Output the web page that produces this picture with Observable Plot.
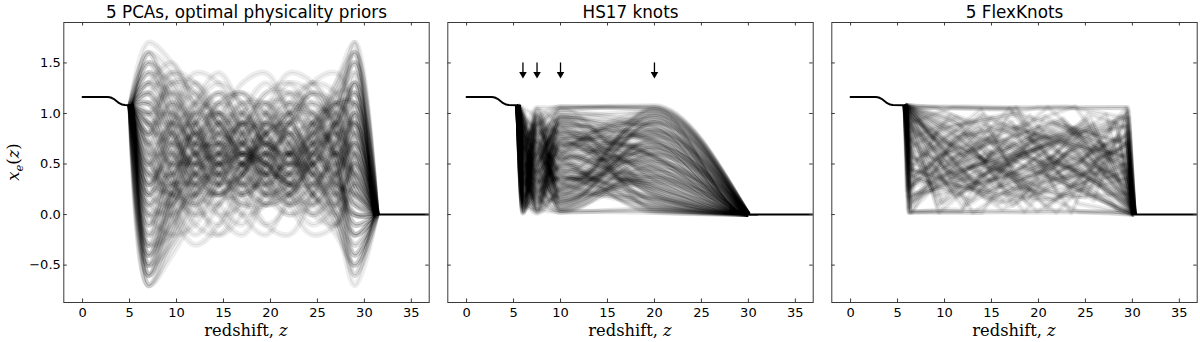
<!DOCTYPE html>
<html><head><meta charset="utf-8">
<script src="https://cdn.jsdelivr.net/npm/d3@7"></script>
<script src="https://cdn.jsdelivr.net/npm/@observablehq/plot@0.6"></script>
<style>
body{margin:0;background:#fff;}
#chart{position:relative;width:1200px;height:342px;background:#fff;}
#chart svg{position:absolute;top:0;}
</style></head><body><div id="chart"></div>
<script>
// ---------- data ----------
const titles = ["5 PCAs, optimal physicality priors", "HS17 knots", "5 FlexKnots"];
const xTicks = [0, 5, 10, 15, 20, 25, 30, 35];
const yTicks = [-0.5, 0, 0.5, 1, 1.5];
const xDomain = [-2, 36.9];
const yDomain = [-0.87, 1.9];

// common low-redshift helium step
const heliumZ  = [0, 2.7, 3.0, 3.3, 3.6, 3.9, 4.2, 4.5];
const heliumXe = [1.163, 1.163, 1.158, 1.145, 1.124, 1.102, 1.089, 1.083];
const plateauXe = 1.082;

// panel 1: PCA reconstructions (values at pcaZ)
const pcaLeadZ = 4.85, pcaStartZ = 5.1, pcaEndZ = 31.3, pcaTrailZ = 31.6;
const pcaZ = [7, 9.5, 12, 14.5, 17, 19.5, 22, 24.5, 27, 29];
const pcaCurves = [
[-0.6,0.1,0.9,1.2,0.8,0.3,0.2,0.6,1.1,1.5],[1.5,1.3,0.7,0.1,-0.1,0.3,0.9,1.2,0.8,0.2],
[0.2,0.5,0.8,0.7,0.4,0.3,0.5,0.7,0.6,0.3],[-0.3,-0.1,0.3,0.8,1.1,1.0,0.6,0.2,0.0,-0.4],
[1.2,0.8,0.3,0.2,0.5,0.9,1.1,0.9,0.4,-0.1],[0.8,1.4,1.3,0.8,0.3,0.1,0.2,0.5,0.9,1.3],
[-0.7,-0.2,0.4,0.6,0.5,0.6,0.8,0.7,0.3,-0.6],[0.5,0.2,0.0,0.3,0.8,1.2,1.3,0.9,0.3,0.0],
[1.6,1.1,0.6,0.6,0.9,0.9,0.6,0.2,0.1,0.6],[0.0,0.6,1.0,0.9,0.4,-0.1,-0.2,0.2,0.8,1.7],
[-0.4,0.3,1.1,1.4,1.0,0.4,0.1,0.3,0.5,0.4],[1.0,0.4,-0.1,-0.2,0.2,0.7,1.0,1.1,0.9,0.6],
[0.3,0.9,1.2,0.9,0.6,0.5,0.4,0.1,-0.2,-0.5],[0.7,0.5,0.5,0.6,0.6,0.4,0.4,0.6,0.9,1.1],
[-0.5,-0.3,0.1,0.5,0.7,0.8,1.0,1.2,1.1,0.8],[1.3,1.5,1.0,0.4,0.2,0.4,0.6,0.4,-0.1,-0.5],
[0.1,0.0,0.2,0.6,0.9,0.8,0.3,0.0,0.2,0.9],[0.9,0.7,0.8,1.1,1.2,0.8,0.2,-0.1,0.1,0.5],
[-0.2,0.5,0.7,0.4,0.1,0.2,0.7,1.3,1.4,1.0],[1.4,0.9,0.2,-0.2,0.0,0.5,0.8,0.6,0.5,0.7],
[0.4,0.8,0.6,0.2,0.2,0.6,1.1,1.3,0.9,0.1],[-0.1,0.2,0.5,0.9,1.3,1.4,1.0,0.5,0.1,-0.2],
[1.1,1.2,0.9,0.5,0.5,0.8,0.9,0.5,0.0,-0.3],[0.6,0.1,-0.2,0.1,0.5,0.6,0.5,0.7,1.2,1.6],
[-0.6,0.0,0.7,1.0,0.7,0.2,0.0,0.2,0.7,1.2],[0.9,1.0,0.6,0.3,0.4,0.7,0.6,0.3,0.3,0.8],
[0.2,0.4,0.3,0.4,0.7,1.0,1.2,1.0,0.5,0.0],[1.5,0.9,0.4,0.4,0.6,0.5,0.2,0.0,0.3,1.0],
[-0.3,0.2,0.6,0.6,0.3,0.1,0.3,0.8,1.1,0.9],[0.5,1.0,1.4,1.3,0.9,0.6,0.6,0.8,0.7,0.2],
[0.0,-0.2,-0.1,0.3,0.6,0.5,0.3,0.4,0.6,0.4],[1.2,0.6,0.5,0.8,1.0,0.7,0.3,0.3,0.6,1.4],
[-0.5,0.1,0.4,0.3,0.4,0.8,1.2,1.1,0.6,-0.1],[0.8,0.3,0.2,0.5,0.9,1.0,0.7,0.2,-0.1,0.2],
[0.3,0.7,1.0,1.1,0.8,0.4,0.2,0.4,1.0,1.5],[1.0,1.2,1.1,0.7,0.2,-0.1,0.1,0.6,0.8,0.5],
[-0.4,-0.1,0.5,1.1,1.2,0.8,0.5,0.5,0.4,0.0],[0.6,0.6,0.3,0.0,0.1,0.5,0.9,0.9,0.6,0.4],
[1.3,1.0,0.7,0.7,0.7,0.5,0.5,0.8,1.2,1.2],[0.1,0.4,0.8,0.8,0.5,0.4,0.6,0.4,0.0,-0.6],
[0.7,1.1,0.9,0.4,0.3,0.6,1.0,1.0,0.5,-0.2],[-0.2,0.0,0.2,0.2,0.4,0.9,1.3,1.2,0.8,0.6],
[1.4,1.3,0.8,0.5,0.6,0.6,0.3,0.1,0.4,1.1],[0.4,0.2,0.4,0.9,1.0,0.6,0.1,-0.2,-0.1,0.3],
[-0.7,-0.3,0.2,0.7,0.9,0.7,0.6,0.7,0.9,1.3],[0.9,0.5,0.6,0.8,0.6,0.2,0.2,0.5,0.6,0.2],
[0.2,0.8,1.1,1.0,0.8,0.9,0.8,0.4,0.1,0.0],[1.1,0.7,0.1,-0.1,0.3,0.8,0.9,0.6,0.4,0.7],
[-0.1,0.3,0.3,0.5,0.5,0.3,0.4,0.9,1.3,1.6],[0.5,0.9,0.7,0.5,0.7,1.1,1.1,0.7,0.2,-0.4],
[1.6,1.4,0.9,0.3,0.1,0.1,0.4,0.7,0.7,0.4],[-0.4,0.2,0.9,1.2,1.1,0.6,0.3,0.5,0.8,0.9],
[0.8,0.8,0.4,0.2,0.3,0.3,0.6,1.0,1.0,0.3],[0.0,0.1,0.6,0.7,0.6,0.8,0.8,0.3,0.1,0.5],
[1.2,0.9,0.9,1.0,0.7,0.3,0.0,0.1,0.5,1.0],[0.3,0.6,0.5,0.3,0.5,0.7,0.5,0.6,0.9,1.3],
[-0.6,-0.1,0.3,0.4,0.2,0.4,0.9,1.0,0.6,-0.3],[0.7,0.3,0.1,0.4,1.0,1.3,1.0,0.5,0.3,0.2],
[1.0,1.3,1.2,0.6,0.0,-0.2,0.2,0.7,1.1,1.1],[0.4,0.4,0.7,1.0,0.9,0.5,0.3,0.2,0.4,0.7],
[1.7,1.5,1.1,0.7,0.5,0.6,0.8,0.9,1.0,1.2],[-0.7,-0.4,0.0,0.4,0.7,0.7,0.5,0.2,-0.1,-0.7],
[0.9,0.6,0.2,0.1,0.4,1.0,1.4,1.3,0.8,0.1],[0.2,0.9,1.3,1.0,0.5,0.2,0.3,0.6,0.8,0.8],
[1.3,0.8,0.5,0.7,1.1,1.1,0.7,0.3,0.2,0.4],[-0.3,0.4,0.6,0.5,0.6,0.5,0.3,0.5,1.0,1.6],
[0.6,0.0,-0.3,-0.1,0.4,0.9,1.0,0.7,0.2,-0.2],[1.0,1.0,0.8,0.5,0.3,0.5,1.0,1.3,1.2,0.7],
[0.1,0.7,0.9,0.6,0.6,0.9,0.7,0.2,0.0,0.3],[1.5,1.2,0.6,0.0,-0.2,0.2,0.6,0.9,1.1,1.4],
[-0.5,0.0,0.5,0.8,0.8,0.5,0.3,0.3,0.3,0.1],[0.7,0.8,1.1,1.3,1.1,0.7,0.4,0.5,0.6,0.6],
[0.3,0.2,0.1,0.3,0.6,0.7,0.9,1.1,0.9,0.4],[1.1,0.5,0.4,0.6,0.7,0.4,0.1,0.2,0.7,1.3],
[-0.2,0.3,0.9,1.0,0.6,0.5,0.7,0.9,0.6,-0.2],[0.8,1.1,0.8,0.3,0.0,0.1,0.5,0.8,0.9,0.9],
[0.4,0.3,0.6,1.0,1.2,1.0,0.6,0.4,0.5,1.0],[1.4,1.1,0.6,0.4,0.5,0.4,0.4,0.7,0.8,0.3],
[-0.6,-0.2,0.3,0.5,0.3,0.3,0.6,0.9,1.2,1.5],[0.5,0.7,0.4,0.3,0.7,1.0,0.8,0.4,0.0,-0.5],
[1.2,1.4,1.2,0.9,0.6,0.4,0.5,0.4,0.2,0.5],[0.0,0.2,0.7,1.1,1.0,0.7,0.6,0.8,1.0,0.6],
[0.9,0.4,0.0,0.1,0.5,0.6,0.4,0.5,0.9,1.2],[0.3,0.6,0.8,0.5,0.2,0.4,0.9,1.2,1.0,0.3],
[-0.4,0.1,0.4,0.6,0.9,1.1,0.9,0.5,0.2,0.0],[1.6,1.0,0.4,0.2,0.4,0.8,1.0,0.8,0.6,0.9],
[0.6,0.9,1.0,0.8,0.7,0.5,0.2,0.1,0.4,1.0],[0.2,0.1,0.4,0.7,0.5,0.2,0.3,0.7,1.1,1.1],
[1.0,0.7,0.7,0.9,0.9,0.7,0.6,0.6,0.4,-0.1],[-0.1,0.5,1.0,1.2,0.8,0.3,0.1,0.3,0.6,0.7],
[0.7,0.2,0.2,0.6,1.0,1.1,0.8,0.6,0.7,1.1],[1.3,1.2,0.8,0.6,0.4,0.2,0.4,0.9,1.1,0.8],
[0.4,0.5,0.5,0.4,0.5,0.8,1.1,1.0,0.5,-0.4],[-0.3,-0.2,0.2,0.5,0.8,0.9,0.7,0.4,0.4,0.8],
[0.8,1.3,1.3,0.9,0.6,0.7,0.7,0.5,0.2,0.1],[0.1,0.3,0.3,0.2,0.4,0.6,0.6,0.8,1.3,1.7],
[1.1,0.8,0.5,0.5,0.8,1.2,1.2,0.8,0.3,0.2],[0.5,0.4,0.6,0.9,0.7,0.4,0.5,0.5,0.7,0.9],
[-0.5,0.2,0.8,0.9,0.5,0.1,0.2,0.6,0.9,0.5],[0.9,0.9,0.7,0.7,0.9,0.8,0.4,0.0,-0.1,0.6]
];

// panel 2: HS17 fixed-position knots (values at hsKnotZ)
const hsStartZ = 5.45, hsEndZ = 30, hsTrailZ = 31;
const hsKnotZ = [6, 7.5, 10, 20];
const hsCurves = [
[0.12,0.85,0.33,0.97],[0.64,0.22,0.91,0.41],[0.05,0.58,0.76,0.18],[0.93,0.37,0.12,0.66],
[0.31,1.02,0.55,0.83],[0.47,0.09,0.68,0.29],[0.78,0.71,0.24,1.04],[0.19,0.44,0.98,0.57],
[0.86,0.15,0.47,0.08],[0.02,0.93,0.19,0.74],[0.55,0.63,0.84,0.35],[0.38,0.28,0.06,0.92],
[1.01,0.80,0.62,0.46],[0.24,0.05,0.39,0.61],[0.69,0.49,1.05,0.22],[0.10,0.76,0.29,0.88],
[0.83,0.33,0.72,0.13],[0.42,0.97,0.15,0.52],[0.60,0.12,0.51,0.99],[0.15,0.67,0.88,0.04],
[0.97,0.54,0.35,0.71],[0.33,0.19,0.80,0.38],[0.73,0.89,0.10,0.80],[0.07,0.40,0.59,0.27],
[0.50,0.74,0.43,0.95],[0.88,0.03,0.93,0.50],[0.27,0.60,0.22,0.16],[0.66,0.26,0.66,0.85],
[0.03,0.83,0.49,0.63],[0.91,0.46,0.17,0.32],[0.36,0.07,0.74,0.77],[0.58,1.05,0.31,0.10],
[0.21,0.35,0.96,0.69],[0.80,0.69,0.04,0.44],[0.45,0.17,0.57,1.02],[0.13,0.52,0.81,0.24],
[1.05,0.95,0.27,0.59],[0.29,0.31,0.45,0.07],[0.71,0.11,0.86,0.90],[0.09,0.78,0.13,0.36],
[0.53,0.43,0.70,0.67],[0.95,0.24,0.37,0.19],[0.40,0.88,1.00,0.81],[0.17,0.02,0.26,0.54],
[0.76,0.65,0.53,0.03],[0.04,0.29,0.64,0.93],[0.62,0.99,0.09,0.42],[0.34,0.50,0.89,0.73],
[0.85,0.14,0.41,0.30],[0.22,0.72,0.20,1.06],[0.99,0.38,0.78,0.58],[0.48,0.61,0.32,0.14],
[0.14,0.10,0.52,0.79],[0.67,0.91,0.71,0.25],[0.30,0.42,0.07,0.49],[0.89,0.79,0.95,0.86],
[0.06,0.21,0.36,0.34],[0.57,0.56,0.61,0.97],[0.81,0.06,0.23,0.62],[0.26,0.84,0.83,0.11],
[0.44,0.34,0.48,0.70],[0.92,0.70,0.14,0.39],[0.18,0.47,0.92,0.55],[0.74,0.18,0.58,0.21],
[0.01,0.64,0.30,0.84],[0.63,1.00,0.77,0.47],[0.35,0.25,0.11,0.76],[0.96,0.57,0.44,0.06],
[0.11,0.90,0.63,0.65],[0.52,0.13,0.99,0.33],[0.77,0.39,0.18,0.91],[0.23,0.81,0.40,0.17],
[0.70,0.04,0.69,0.53],[0.41,0.66,0.25,0.99],[1.03,0.30,0.85,0.28],[0.16,0.53,0.05,0.60],
[0.59,0.87,0.56,0.82],[0.32,0.20,0.73,0.12],[0.84,0.75,0.34,0.45],[0.08,0.45,0.87,0.72],
[0.46,0.92,0.58,0.15],[0.87,0.41,0.95,0.74],[0.20,0.16,0.67,0.42],[0.65,0.86,0.21,1.00],
[0.03,0.48,0.82,0.58],[0.94,0.27,0.50,0.23],[0.37,0.73,0.16,0.68],[0.72,0.08,0.74,0.89],
[0.13,0.98,0.38,0.31],[0.56,0.35,0.97,0.05],[0.82,0.62,0.08,0.56],[0.26,0.23,0.60,0.96],
[1.00,0.77,0.45,0.37],[0.43,0.01,0.28,0.78],[0.68,0.53,0.90,0.19],[0.08,0.69,0.47,1.03],
[0.90,0.19,0.02,0.48],[0.30,0.94,0.79,0.64],[0.61,0.32,0.36,0.09],[0.16,0.58,1.02,0.87],
[0.79,0.83,0.54,0.27],[0.49,0.12,0.18,0.66],[0.02,0.37,0.71,0.40],[0.98,0.66,0.32,0.93],
[0.35,1.04,0.88,0.20],[0.73,0.47,0.12,0.75],[0.19,0.29,0.55,0.52],[0.58,0.76,0.96,1.01],
[0.86,0.04,0.42,0.16],[0.25,0.61,0.26,0.59],[0.67,0.96,0.65,0.34],[0.11,0.26,0.81,0.83],
[0.95,0.51,0.23,0.71],[0.40,0.81,0.61,0.02],[0.54,0.15,0.92,0.46],[0.06,0.71,0.14,0.91],
[0.77,0.44,0.76,0.57],[0.31,0.89,0.39,0.26],[0.89,0.22,0.69,0.80],[0.47,0.59,0.04,0.38],
[0.72,0.95,1.07,1.06],[0.30,0.60,1.05,1.08],[0.85,1.06,1.06,1.05],[0.10,0.05,0.03,0.04],
[0.50,0.20,0.04,0.02],[0.95,0.88,1.07,1.04],[0.15,0.90,1.04,1.07],[0.60,0.35,0.02,0.06]
];
const arrowZ = [6, 7.5, 10, 20];
const arrowTopXe = 1.50, arrowHeadXe = 1.39;

// panel 3: FlexKnots, interior knots as [z1,xe1, z2,xe2, z3,xe3, z4,xe4]
const flexStartZ = 5.8, flexEndZ = 30.2;
const flexCurves = [
[6.2,0.31,12.5,0.84,19.3,0.22,29.5,0.70],[6.4,0.95,14.1,0.40,22.6,0.91,29.4,0.12],
[9.8,0.12,15.7,0.66,21.0,1.06,29.6,0.38],[6.1,0.78,11.2,0.18,18.6,0.57,25.1,0.94],
[6.3,0.02,16.9,1.05,23.4,0.27,29.6,0.81],[6.1,0.06,10.4,0.63,20.2,0.41,28.9,0.05],
[11.6,0.88,17.3,0.09,24.5,0.73,29.7,0.55],[6.0,0.24,13.8,0.97,18.0,0.33,27.2,0.99],
[6.6,1.07,9.9,0.47,21.7,0.79,29.3,0.20],[12.8,0.35,19.5,0.60,25.9,0.14,29.5,1.04],
[6.3,0.57,14.6,0.28,20.8,0.86,29.6,0.47],[8.9,0.73,13.0,0.02,22.3,0.56,28.4,0.90],
[6.2,0.15,16.2,0.82,23.9,1.07,29.7,0.30],[6.2,0.90,10.9,1.06,17.8,1.05,24.2,0.11],
[6.5,0.44,15.2,0.19,21.4,0.39,29.4,0.77],[6.5,0.38,12.1,0.71,19.9,0.03,29.0,0.58],
[9.1,1.06,18.4,0.65,24.8,0.89,29.6,0.42],[6.3,0.02,11.8,0.03,16.6,0.94,28.0,0.08],
[13.4,0.62,17.6,1.06,22.0,0.20,29.5,0.51],[6.1,0.69,8.7,0.25,20.5,0.68,29.6,0.96],
[6.2,0.46,15.9,0.13,23.1,0.61,29.2,0.33],[11.0,0.80,14.3,0.53,19.1,0.98,25.4,0.24],
[6.4,0.17,13.5,0.59,21.9,0.02,29.6,0.74],[8.1,1.06,17.0,1.04,24.0,0.45,29.3,1.05],
[6.2,0.41,10.6,0.99,18.9,0.75,26.1,0.16],[12.3,0.10,16.4,0.48,22.8,0.84,29.7,0.60],
[6.2,1.04,9.5,0.70,15.4,0.26,23.6,0.52],[6.3,0.29,14.8,0.77,20.3,0.50,29.0,0.02],
[10.0,0.61,18.1,0.16,25.3,1.00,29.4,0.86],[6.3,0.12,11.4,0.43,17.2,0.72,22.7,0.31],
[6.1,0.84,13.2,0.60,21.1,0.13,29.5,0.44],[6.8,0.55,16.0,0.90,24.4,0.66,29.5,0.18],
[14.0,0.21,19.7,0.55,23.5,0.02,28.1,0.92],[6.1,0.83,12.0,0.07,17.5,0.38,29.6,0.79],
[6.4,0.67,10.8,0.88,20.0,1.06,29.4,1.06],[9.4,0.02,15.6,0.51,22.1,0.71,29.4,0.58],
[6.5,0.49,13.9,1.04,18.7,0.12,24.9,0.85],[11.3,0.92,16.8,0.34,21.6,0.58,29.7,0.10],
[6.2,0.23,9.2,0.58,19.2,0.89,28.8,0.49],[6.0,0.76,14.4,0.15,23.2,0.40,29.6,1.02],
[6.6,0.95,12.7,0.55,20.7,0.24,29.7,0.71],[10.7,0.36,17.4,0.69,22.5,0.93,29.1,0.27],
[6.3,0.60,11.5,0.21,18.3,0.46,24.7,0.67],[6.3,0.08,15.0,0.96,21.2,0.64,29.5,0.35],
[12.6,0.71,16.3,0.28,25.0,0.17,29.3,0.93],[6.4,0.86,10.1,0.33,19.6,0.80,29.2,0.57],
[9.0,0.53,13.6,0.87,20.9,0.06,27.4,0.64],[6.1,0.18,14.9,0.42,22.4,0.76,29.6,0.26],
[7.9,1.00,12.2,0.78,18.2,0.29,24.3,0.03],[6.2,0.27,17.1,0.61,23.0,0.88,29.5,0.69],
[6.7,0.72,9.6,0.10,16.7,0.53,25.8,0.90],[6.6,0.39,15.3,0.74,21.8,0.35,29.6,0.45],
[6.2,0.45,13.1,0.32,19.0,0.64,29.4,0.20],[10.5,0.96,18.8,0.46,24.6,0.56,29.7,0.82],
[6.5,0.02,11.1,0.77,17.7,0.87,23.8,0.62],[6.6,0.81,14.7,0.23,20.6,0.44,29.2,0.76],
[13.7,0.54,18.5,0.03,22.9,0.49,29.6,0.13],[6.3,0.97,12.4,0.62,21.5,0.91,28.7,0.54],
[6.8,0.20,16.5,0.37,23.7,0.80,29.0,0.97],[6.8,0.63,10.2,0.52,15.8,0.11,29.5,0.42],
[9.7,0.74,14.2,0.99,20.4,0.58,26.7,0.29],[6.1,0.40,12.9,0.14,18.6,0.73,29.6,0.88],
[6.1,0.88,11.7,0.66,22.2,0.18,29.4,0.36],[15.1,0.32,19.8,0.82,24.1,0.63,28.4,0.05],
[6.4,0.26,9.3,0.85,17.9,0.99,29.3,0.71],[8.4,0.58,16.1,0.05,21.3,0.27,29.7,0.62],
[6.6,0.13,13.3,0.49,19.4,0.37,25.5,0.96],[10.8,0.85,15.5,0.70,22.6,0.95,29.6,0.23],
[6.2,0.74,11.3,0.96,16.9,0.60,29.0,0.34],[6.8,0.35,18.0,0.18,24.2,0.52,28.6,0.78],
[12.0,0.58,17.2,0.92,20.1,0.31,29.6,0.50],[6.3,0.51,10.5,0.40,21.0,0.69,29.3,0.87],
[9.2,0.09,14.5,0.64,23.5,0.28,29.5,0.72],[6.1,0.92,13.0,0.26,18.4,0.83,25.1,0.48],
[8.2,0.64,12.6,0.81,19.3,0.15,29.7,0.21],[6.1,0.28,15.7,0.75,22.0,0.43,29.5,0.67],
[11.4,0.47,16.6,0.11,24.7,0.74,29.4,0.99],[6.5,0.65,9.0,0.19,17.6,0.41,23.9,0.86],
[6.2,0.03,14.0,0.02,20.7,0.97,28.9,0.59],[6.7,0.83,12.2,0.45,19.8,0.66,29.6,0.09],
[6.4,1.06,12.0,1.07,20.5,1.05,29.5,1.06],[6.3,0.03,13.5,0.02,21.0,0.04,27.5,0.02],
[7.0,1.07,15.0,1.05,23.0,1.07,29.6,0.95],[6.2,0.02,10.0,0.05,18.5,0.02,29.4,0.03]
];

// ---------- build line tables (anchor = tangent helper outside the free range) ----------
const pcaRows = pcaCurves.flatMap((v, id) => [
  {id, z: pcaLeadZ, xe: plateauXe, anchor: true}, {id, z: pcaStartZ, xe: plateauXe},
  ...pcaZ.map((z, j) => ({id, z, xe: v[j]})),
  {id, z: pcaEndZ, xe: 0}, {id, z: pcaTrailZ, xe: 0, anchor: true}
]);
const hsRows = hsCurves.flatMap((v, id) => [
  {id, z: hsStartZ, xe: plateauXe},
  ...hsKnotZ.map((z, j) => ({id, z, xe: v[j]})),
  {id, z: hsEndZ, xe: 0}, {id, z: hsTrailZ, xe: 0, anchor: true}
]);
const flexRows = flexCurves.flatMap((v, id) => [
  {id, z: flexStartZ, xe: plateauXe},
  ...[0, 2, 4, 6].map(j => ({id, z: v[j], xe: v[j + 1]})),
  {id, z: flexEndZ, xe: 0}
]);
const startZ = [pcaStartZ, hsStartZ, flexStartZ];
const endZ = [pcaEndZ, hsEndZ, flexEndZ];
const stepRows = k => [...heliumZ.map((z, i) => ({z, xe: heliumXe[i]})), {z: startZ[k], xe: plateauXe}];
const tailRows = k => [{z: endZ[k], xe: 0}, {z: xDomain[1], xe: 0}];

// ---------- layout ----------
const W = 430, H = 342, mL = 63.3, mR = 1.3, mT = 22, mB = 40;
const innerW = W - mL - mR, innerH = H - mT - mB;
const lefts = [0, 384, 768];
const frameColor = "#3a3a3a";
const fmt = d => (d < 0 ? "\u2212" : "") + Math.abs(d).toFixed(1);

const panels = [
  {rows: pcaRows, curve: "catmull-rom", halo: [6, 0.07], core: [0.7, 0.13]},
  {rows: hsRows, curve: "monotone-x", halo: [5, 0.075], core: [0.7, 0.14]},
  {rows: flexRows, curve: "linear", halo: [5, 0.08], core: [0.7, 0.14]}
];

const chart = document.getElementById("chart");
panels.forEach((p, k) => {
  const lineOpts = (w, o, cap) => ({x: "z", y: "xe", z: "id", curve: p.curve, stroke: "#000",
      strokeOpacity: o, strokeWidth: w, strokeLinecap: cap, clip: true});
  const marks = [
    Plot.line(p.rows.filter(d => !d.anchor), lineOpts(p.halo[0], p.halo[1], "butt")),
    Plot.line(p.rows, lineOpts(p.core[0], p.core[1], "round")),
    Plot.line(stepRows(k), {x: "z", y: "xe", stroke: "#000", strokeWidth: 2, clip: true}),
    Plot.line(tailRows(k), {x: "z", y: "xe", stroke: "#000", strokeWidth: 2, clip: true}),
    Plot.frame({stroke: frameColor, strokeWidth: 1}),
    Plot.tickX(xTicks, {x: d => d, insetTop: innerH - 3.5, stroke: frameColor}),
    Plot.tickX(xTicks, {x: d => d, insetBottom: innerH - 3.5, stroke: frameColor}),
    Plot.tickY(yTicks, {y: d => d, insetRight: innerW - 3.5, stroke: frameColor}),
    Plot.tickY(yTicks, {y: d => d, insetLeft: innerW - 3.5, stroke: frameColor}),
    Plot.axisX({ticks: xTicks, tickSize: 0, tickPadding: 5, label: null, fontSize: 13}),
    Plot.text([titles[k]], {frameAnchor: "top", dy: -5, lineAnchor: "bottom", text: d => d, fontSize: 16.8, fill: "#000"})
  ];
  if (k === 0) marks.push(Plot.axisY({ticks: yTicks, tickSize: 0, tickPadding: 3, tickFormat: fmt, label: null, fontSize: 13}));
  if (k === 1) {
    marks.push(Plot.ruleX(arrowZ, {x: d => d, y1: arrowTopXe, y2: arrowHeadXe, stroke: "#000", strokeWidth: 1.3}));
    marks.push(Plot.dot(arrowZ, {x: d => d, y: arrowHeadXe, symbol: "triangle", rotate: 180, r: 2.8, fill: "#000", stroke: "none"}));
  }
  const svg = Plot.plot({
    width: W, height: H, marginLeft: mL, marginRight: mR, marginTop: mT, marginBottom: mB,
    x: {domain: xDomain},
    y: {domain: yDomain, axis: k === 0 ? undefined : null},
    style: {background: "transparent", fontFamily: "DejaVu Sans", fontSize: "13px", color: "#000", overflow: "visible"},
    marks
  });
  svg.style.left = lefts[k] + "px";
  const s = d3.select(svg);
  const xl = s.append("text").attr("x", mL + innerW / 2).attr("y", 336).attr("text-anchor", "middle")
    .attr("font-family", "DejaVu Serif").attr("font-size", 16.3).attr("fill", "#000");
  xl.append("tspan").text("redshift, ");
  xl.append("tspan").attr("font-style", "italic").text("z");
  if (k === 0) {
    const yl = s.append("text").attr("transform", `translate(19,${mT + innerH / 2}) rotate(-90)`)
      .attr("text-anchor", "middle").attr("font-family", "DejaVu Serif").attr("font-size", 16.3).attr("fill", "#000");
    yl.append("tspan").attr("font-style", "italic").text("x");
    yl.append("tspan").attr("font-style", "italic").attr("font-size", 11.5).attr("dy", 3.5).text("e");
    yl.append("tspan").attr("dy", -3.5).text("(");
    yl.append("tspan").attr("font-style", "italic").text("z");
    yl.append("tspan").text(")");
  }
  chart.appendChild(svg);
});
</script></body></html>
